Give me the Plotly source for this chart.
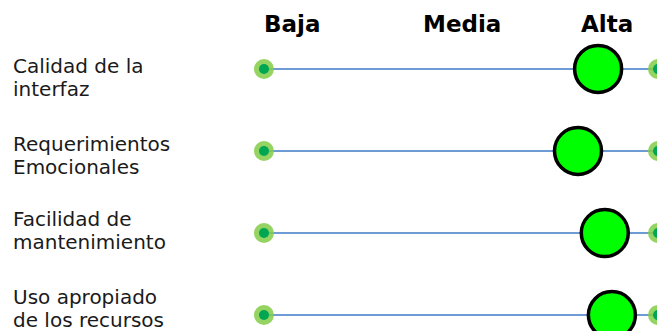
import plotly.graph_objects as go

# ---- data ----
criteria = [
    "Calidad de la\ninterfaz",
    "Requerimientos\nEmocionales",
    "Facilidad de\nmantenimiento",
    "Uso apropiado\nde los recursos",
]
scores = [8.48, 7.97, 8.65, 8.83]          # position of each rating on the 0-10 scale
scale_min, scale_max = 0, 10
levels = ["Baja", "Media", "Alta"]
level_positions = [0.71, 5.03, 8.71]
label_rows = [0.10, 1.05, 1.97, 2.92]      # vertical anchor of each row label

rows = list(range(len(criteria)))

fig = go.Figure()

# horizontal scale lines
for r in rows:
    fig.add_trace(go.Scatter(
        x=[scale_min, scale_max], y=[r, r], mode="lines",
        line=dict(color="#6f9bd4", width=2), hoverinfo="skip", showlegend=False))

# end dots (outer halo + inner dot)
end_x = [scale_min] * len(rows) + [scale_max] * len(rows)
end_y = rows + rows
fig.add_trace(go.Scatter(
    x=end_x, y=end_y, mode="markers",
    marker=dict(size=20, color="rgba(130,205,70,0.85)", line=dict(width=0)),
    hoverinfo="skip", showlegend=False))
fig.add_trace(go.Scatter(
    x=end_x, y=end_y, mode="markers",
    marker=dict(size=10, color="#00a651", line=dict(width=0)),
    hoverinfo="skip", showlegend=False))

# rating circles
fig.add_trace(go.Scatter(
    x=scores, y=rows, mode="markers",
    marker=dict(size=47, color="#00ff00", line=dict(color="black", width=3.5)),
    showlegend=False))

annotations = []
# level headers
for name, pos in zip(levels, level_positions):
    annotations.append(dict(
        x=pos, y=-0.55, xref="x", yref="y", text="<b>%s</b>" % name,
        showarrow=False, xanchor="center", yanchor="middle",
        font=dict(family="DejaVu Sans", size=23, color="black")))
# row labels
for ly, label in zip(label_rows, criteria):
    l1, l2 = label.split("\n")
    for txt, shift in ((l1, 11.5), (l2, -11.5)):
        annotations.append(dict(
            x=11 / 657, y=ly, xref="paper", yref="y", text=txt,
            showarrow=False, xanchor="left", yanchor="middle", yshift=shift,
            font=dict(family="DejaVu Sans", size=20, color="#1a1a1a")))

fig.update_layout(
    width=657, height=331,
    margin=dict(l=0, r=0, t=0, b=0),
    paper_bgcolor="white", plot_bgcolor="white",
    xaxis=dict(range=[-6.70, 9.975], visible=False, fixedrange=True),
    yaxis=dict(range=[3.195, -0.841], visible=False, fixedrange=True),
    annotations=annotations,
)

fig.write_html("out.html", config={"displayModeBar": False},
               post_script="document.body.style.margin='0';")
